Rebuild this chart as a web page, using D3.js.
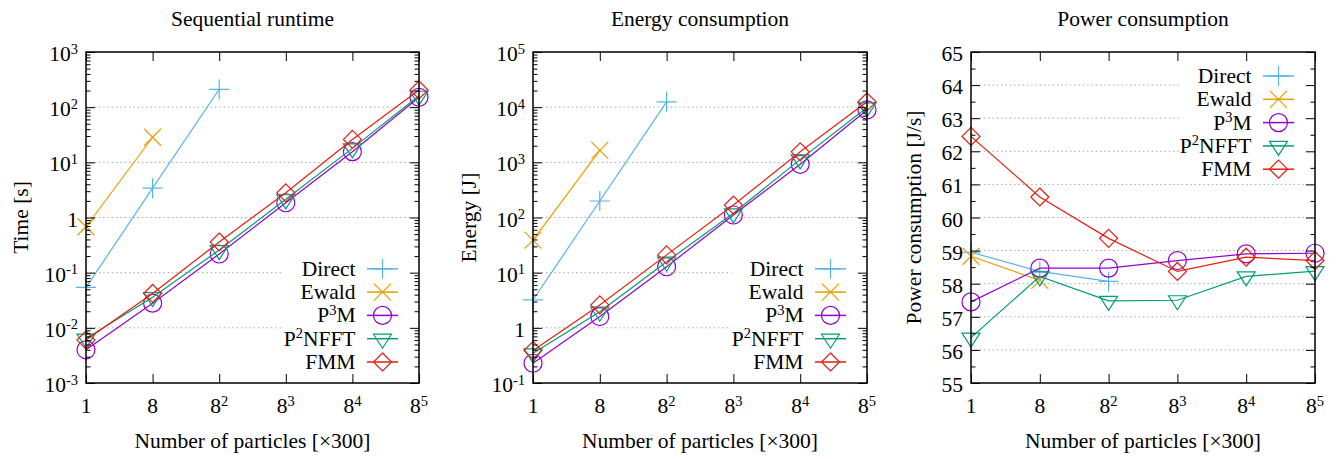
<!DOCTYPE html>
<html>
<head>
<meta charset="utf-8">
<script src="https://cdn.jsdelivr.net/npm/d3@7"></script>
<style>
  body { margin: 0; background: #fff; }
  svg { font-family: "Liberation Serif", "Times New Roman", serif; }
</style>
</head>
<body>
<svg id="chart" width="1337" height="459"></svg>
<script>
// categories: number of particles (x 300), shown as powers of 8
const xTicks = ['1', '8', '8^2', '8^3', '8^4', '8^5']
const methods = ['Direct', 'Ewald', 'P^3M', 'P^2NFFT', 'FMM']
const colors = ['#56b4e9', '#e69f00', '#9400d3', '#009e73', '#e51e10']

// sequential runtime [s]
const timeDirect = [0.054, 3.4, 211]
const timeEwald = [0.68, 28.5]
const timeP3M = [0.0040, 0.028, 0.218, 1.85, 15.6, 151]
const timeP2NFFT = [0.0064, 0.036, 0.257, 2.14, 17.9, 161]
const timeFMM = [0.0060, 0.042, 0.36, 2.8, 26, 205]

// energy consumption [J]
const energyDirect = [3.2, 199, 12500]
const energyEwald = [39, 1650]
const energyP3M = [0.228, 1.6, 12.8, 111, 920, 8900]
const energyP2NFFT = [0.345, 1.96, 15.8, 119, 1130, 9900]
const energyFMM = [0.39, 2.6, 21, 168, 1550, 12500]

// power consumption [J/s]
const powerDirect = [58.95, 58.37, 58.07]
const powerEwald = [58.83, 58.1]
const powerP3M = [57.45, 58.47, 58.47, 58.7, 58.9, 58.92]
const powerP2NFFT = [56.37, 58.22, 57.48, 57.5, 58.22, 58.38]
const powerFMM = [62.45, 60.62, 59.37, 58.37, 58.8, 58.7]

// y tick labels
const timeTicks = ['10^-3', '10^-2', '10^-1', '1', '10^1', '10^2', '10^3']
const energyTicks = ['10^-1', '1', '10^1', '10^2', '10^3', '10^4', '10^5']
const powerTicks = ['55', '56', '57', '58', '59', '60', '61', '62', '63', '64', '65']

const panels = [
  { title: 'Sequential runtime', ylabel: 'Time [s]', left: 86, right: 419, labelX: 28,
    log: true, domain: [1e-3, 1e3], ticks: timeTicks, legendTop: false,
    series: [timeDirect, timeEwald, timeP3M, timeP2NFFT, timeFMM] },
  { title: 'Energy consumption', ylabel: 'Energy [J]', left: 533, right: 867, labelX: 476,
    log: true, domain: [1e-1, 1e5], ticks: energyTicks, legendTop: false,
    series: [energyDirect, energyEwald, energyP3M, energyP2NFFT, energyFMM] },
  { title: 'Power consumption', ylabel: 'Power consumption [J/s]', left: 971, right: 1315, labelX: 921,
    log: false, domain: [55, 65], ticks: powerTicks, legendTop: true,
    series: [powerDirect, powerEwald, powerP3M, powerP2NFFT, powerFMM] }
]

const plotTop = 52, plotBottom = 383
const fs = 21.5
const svg = d3.select('#chart')

// write "a^b" strings with superscripts
function richText(sel, s) {
  const parts = s.split(/\^(-?\d+)/)
  parts.forEach((p, i) => {
    if (p === '') return
    const t = sel.append('tspan').text(p)
    if (i % 2) t.attr('font-size', 14.5).attr('dy', -7.5)
    else if (i > 0) t.attr('dy', 7.5)
  })
}

function marker(g, k, color) {
  const m = g.append('path').attr('fill', 'none').attr('stroke', color).attr('stroke-width', 1.2)
  if (k === 0) m.attr('d', 'M-10,0H10M0,-10V10')
  if (k === 1) m.attr('d', 'M-8.5,-8.5L8.5,8.5M-8.5,8.5L8.5,-8.5')
  if (k === 2) m.attr('d', 'M9,0A9,9 0 1,1 -9,0A9,9 0 1,1 9,0Z')
  if (k === 3) m.attr('d', 'M-9,-4.5L9,-4.5L0,9.5Z')
  if (k === 4) m.attr('d', 'M0,-9L9,0L0,9L-9,0Z')
}

panels.forEach(p => {
  const x = d3.scaleLinear().domain([0, xTicks.length - 1]).range([p.left, p.right])
  const y = (p.log ? d3.scaleLog() : d3.scaleLinear()).domain(p.domain).range([plotBottom, plotTop])
  const majors = p.log
    ? d3.range(Math.log10(p.domain[0]), Math.log10(p.domain[1]) + 1).map(e => Math.pow(10, e))
    : d3.range(p.domain[0], p.domain[1] + 1)
  const minors = p.log
    ? majors.slice(0, -1).flatMap(m => d3.range(2, 10).map(k => m * k))
    : majors.slice(0, -1).map(m => m + 0.5)

  const g = svg.append('g')

  // grid
  g.append('g').selectAll('line')
    .data(majors.slice(1, -1))
    .join('line')
    .attr('x1', p.left).attr('x2', p.right)
    .attr('y1', d => y(d)).attr('y2', d => y(d))
    .attr('stroke', '#a8a8a8').attr('stroke-width', 1)
    .attr('stroke-dasharray', '1.5 2.8')

  // series
  const line = d3.line().x((d, i) => x(i)).y(d => y(d))
  p.series.forEach((vals, k) => {
    g.append('path').datum(vals).attr('d', line)
      .attr('fill', 'none').attr('stroke', colors[k]).attr('stroke-width', 1.2)
    vals.forEach((v, i) => {
      marker(g.append('g').attr('transform', `translate(${x(i)},${y(v)})`), k, colors[k])
    })
  })

  // legend (opaque)
  const rowH = 23.3
  const row0 = p.legendTop ? plotTop + 24 : plotBottom - 21 - 4 * rowH
  const textEnd = p.right - 63.5
  g.append('rect')
    .attr('x', textEnd - 72).attr('y', row0 - 11.5)
    .attr('width', p.right - textEnd + 72).attr('height', rowH * 5)
    .attr('fill', '#fff')
  methods.forEach((name, k) => {
    const ry = row0 + k * rowH
    const t = g.append('text').attr('x', textEnd).attr('y', ry + 7)
      .attr('text-anchor', 'end').attr('font-size', fs)
    richText(t, name)
    g.append('line').attr('x1', p.right - 52).attr('x2', p.right - 21)
      .attr('y1', ry).attr('y2', ry)
      .attr('stroke', colors[k]).attr('stroke-width', 1.5)
    marker(g.append('g').attr('transform', `translate(${p.right - 36.5},${ry})`), k, colors[k])
  })

  // ticks, inward and mirrored
  const ax = (axis, tx, ty) => g.append('g').attr('transform', `translate(${tx},${ty})`).call(axis)
    .call(s => s.select('.domain').remove())
    .call(s => s.selectAll('line').attr('stroke', '#000'))
  const xt = d3.range(xTicks.length)
  ax(d3.axisBottom(x).tickValues(xt).tickSize(-9).tickFormat(''), 0, plotBottom)
  ax(d3.axisTop(x).tickValues(xt).tickSize(-9).tickFormat(''), 0, plotTop)
  ax(d3.axisLeft(y).tickValues(majors).tickSize(-9).tickFormat(''), p.left, 0)
  ax(d3.axisRight(y).tickValues(majors).tickSize(-9).tickFormat(''), p.right, 0)
  ax(d3.axisLeft(y).tickValues(minors).tickSize(-4.5).tickFormat(''), p.left, 0)
  ax(d3.axisRight(y).tickValues(minors).tickSize(-4.5).tickFormat(''), p.right, 0)

  g.append('rect').attr('x', p.left).attr('y', plotTop)
    .attr('width', p.right - p.left).attr('height', plotBottom - plotTop)
    .attr('fill', 'none').attr('stroke', '#000').attr('stroke-width', 1.5)

  // tick labels
  majors.forEach((m, i) => {
    const t = g.append('text').attr('x', p.left - 8).attr('y', y(m) + 9)
      .attr('text-anchor', 'end').attr('font-size', fs)
    richText(t, p.ticks[i])
  })
  xTicks.forEach((lab, i) => {
    const t = g.append('text').attr('x', x(i)).attr('y', 413)
      .attr('text-anchor', 'middle').attr('font-size', fs)
    richText(t, lab)
  })

  // titles
  const cx = (p.left + p.right) / 2
  g.append('text').attr('x', cx).attr('y', 26).attr('text-anchor', 'middle')
    .attr('font-size', fs).text(p.title)
  g.append('text').attr('x', cx).attr('y', 448).attr('text-anchor', 'middle')
    .attr('font-size', fs).text('Number of particles [×300]')
  g.append('text').attr('transform', `translate(${p.labelX},${(plotTop + plotBottom) / 2}) rotate(-90)`)
    .attr('text-anchor', 'middle').attr('font-size', fs).text(p.ylabel)
})
</script>
</body>
</html>
